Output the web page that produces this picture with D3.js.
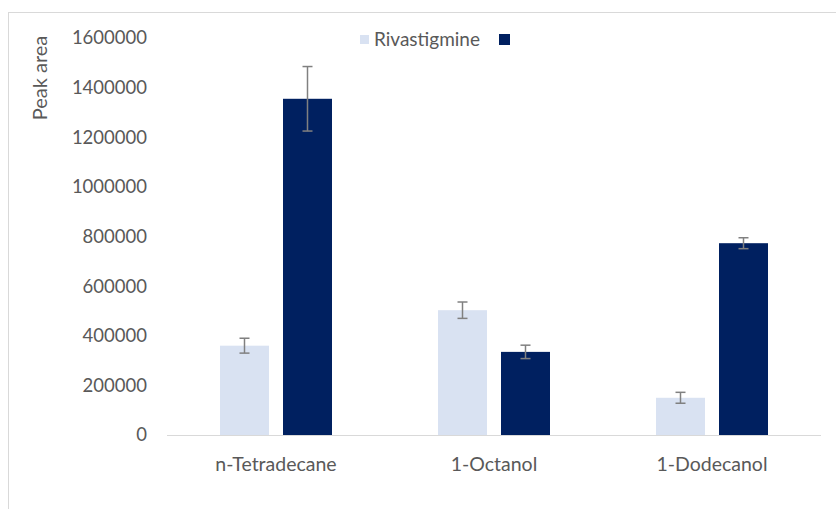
<!DOCTYPE html>
<html>
<head>
<meta charset="utf-8">
<script src="https://cdn.jsdelivr.net/npm/d3@7"></script>
<style>
  body { margin: 0; background: #fff; }
  svg { display: block; font-family: Lato, "Open Sans", sans-serif; }
</style>
</head>
<body>
<svg width="836" height="509"></svg>
<script>
// chart data
const categories = ["n-Tetradecane", "1-Octanol", "1-Dodecanol"];
const seriesNames = ["Rivastigmine", ""];
const rivastigmine = [360000, 503000, 150000];
const secondSeries = [1355000, 335000, 773000];
const rivaErr = [30000, 33000, 22000];
const secondErr = [130000, 27000, 22000];
const yTicks = [0, 200000, 400000, 600000, 800000, 1000000, 1200000, 1400000, 1600000];
const colors = ["#d9e2f2", "#002060"];

const svg = d3.select("svg");

// outer chart frame (runs off right and bottom like the crop)
svg.append("rect")
    .attr("x", 8.5).attr("y", 12.5)
    .attr("width", 900).attr("height", 600)
    .attr("fill", "none")
    .attr("stroke", "#d9d9d9");

const plotLeft = 167, plotRight = 821, plotTop = 38, plotBottom = 435;

const x = d3.scaleBand().domain(categories).range([plotLeft, plotRight]);
const y = d3.scaleLinear().domain([0, 1600000]).range([plotBottom, plotTop]);

const barW = 49, gap = 14;
const series = [
    { name: seriesNames[0], values: rivastigmine, err: rivaErr, color: colors[0] },
    { name: seriesNames[1], values: secondSeries, err: secondErr, color: colors[1] }
];

// y axis labels
svg.append("g")
    .selectAll("text")
    .data(yTicks)
    .join("text")
    .attr("x", 147)
    .attr("y", d => y(d))
    .attr("dy", "0.35em")
    .attr("text-anchor", "end")
    .attr("fill", "#595959")
    .style("font-size", "18.5px")
    .text(d => d);

// baseline
svg.append("line")
    .attr("x1", plotLeft).attr("x2", plotRight)
    .attr("y1", y(0) + 0.5).attr("y2", y(0) + 0.5)
    .attr("stroke", "#d9d9d9");

// bars + error bars
series.forEach((s, si) => {
    const off = si === 0 ? -(barW + gap / 2) : gap / 2;
    const cx = c => x(c) + x.bandwidth() / 2 + off + barW / 2;

    svg.append("g")
        .selectAll("rect")
        .data(categories)
        .join("rect")
        .attr("x", c => x(c) + x.bandwidth() / 2 + off)
        .attr("y", (c, i) => y(s.values[i]))
        .attr("width", barW)
        .attr("height", (c, i) => y(0) - y(s.values[i]))
        .attr("fill", s.color);

    const eb = svg.append("g")
        .attr("stroke", "#808080")
        .attr("stroke-width", 1.5);
    categories.forEach((c, i) => {
        const hi = y(s.values[i] + s.err[i]);
        const lo = y(s.values[i] - s.err[i]);
        eb.append("line").attr("x1", cx(c)).attr("x2", cx(c)).attr("y1", hi).attr("y2", lo);
        eb.append("line").attr("x1", cx(c) - 5).attr("x2", cx(c) + 5).attr("y1", hi).attr("y2", hi);
        eb.append("line").attr("x1", cx(c) - 5).attr("x2", cx(c) + 5).attr("y1", lo).attr("y2", lo);
    });
});

// category labels
svg.append("g")
    .selectAll("text")
    .data(categories)
    .join("text")
    .attr("x", c => x(c) + x.bandwidth() / 2)
    .attr("y", 464)
    .attr("dy", "0.35em")
    .attr("text-anchor", "middle")
    .attr("fill", "#595959")
    .style("font-size", "19.5px")
    .text(c => c);

// y axis title
svg.append("text")
    .attr("transform", "translate(40,78) rotate(-90)")
    .attr("dy", "0.35em")
    .attr("text-anchor", "middle")
    .attr("fill", "#595959")
    .style("font-size", "20px")
    .text("Peak area");

// legend
const legend = svg.append("g");
legend.append("rect").attr("x", 360).attr("y", 35).attr("width", 9).attr("height", 9).attr("fill", colors[0]);
legend.append("text").attr("x", 374).attr("y", 39).attr("dy", "0.35em")
    .attr("fill", "#595959").style("font-size", "19px").text(seriesNames[0]);
legend.append("rect").attr("x", 499).attr("y", 34).attr("width", 11).attr("height", 11).attr("fill", colors[1]);
</script>
</body>
</html>
